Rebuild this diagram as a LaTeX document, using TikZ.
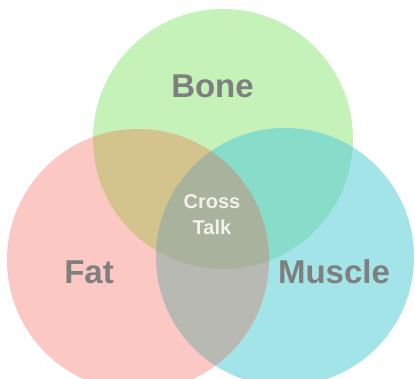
\documentclass[tikz,border=0pt]{standalone}
\usepackage{fontspec}
\setmainfont{Liberation Sans}
\definecolor{cG}{HTML}{C5F2B9}
\definecolor{cR}{HTML}{FCC8C4}
\definecolor{cC}{HTML}{A3E4E8}
\definecolor{cGR}{HTML}{D3C48E}
\definecolor{cGC}{HTML}{87DDC9}
\definecolor{cRC}{HTML}{B9B9B4}
\definecolor{cAll}{HTML}{A8B29C}
\definecolor{lbl}{HTML}{7F7F7F}
\definecolor{ctxt}{HTML}{F3F3EC}
\begin{document}
\begin{tikzpicture}[x=1pt,y=-1pt,
  biglabel/.style={text=lbl,font=\bfseries\fontsize{33}{40}\selectfont,inner sep=0pt,anchor=base},
  smalllabel/.style={text=ctxt,font=\bfseries\fontsize{20}{26}\selectfont,inner sep=0pt,align=center}]
\useasboundingbox (0,0) rectangle (415,378);
\fill[white] (0,0) rectangle (415,378);
\def\circG{(223,139) circle[radius=130]}
\def\circR{(138,260) circle[radius=131]}
\def\circC{(285,257) circle[radius=129]}
\fill[cG] \circG;
\fill[cR] \circR;
\fill[cC] \circC;
\begin{scope}
  \clip \circG;
  \fill[cGR] \circR;
  \fill[cGC] \circC;
\end{scope}
\begin{scope}
  \clip \circR;
  \fill[cRC] \circC;
\end{scope}
\begin{scope}
  \clip \circG;
  \clip \circR;
  \fill[cAll] \circC;
\end{scope}
\node[biglabel] (bone) at (212.5,97) {Bone};
\node[biglabel] (fat) at (89,283) {Fat};
\node[biglabel] (muscle) at (334,283) {Muscle};
\node[smalllabel] (cross) at (212,215) {Cross\\Talk};
\end{tikzpicture}
\end{document}
